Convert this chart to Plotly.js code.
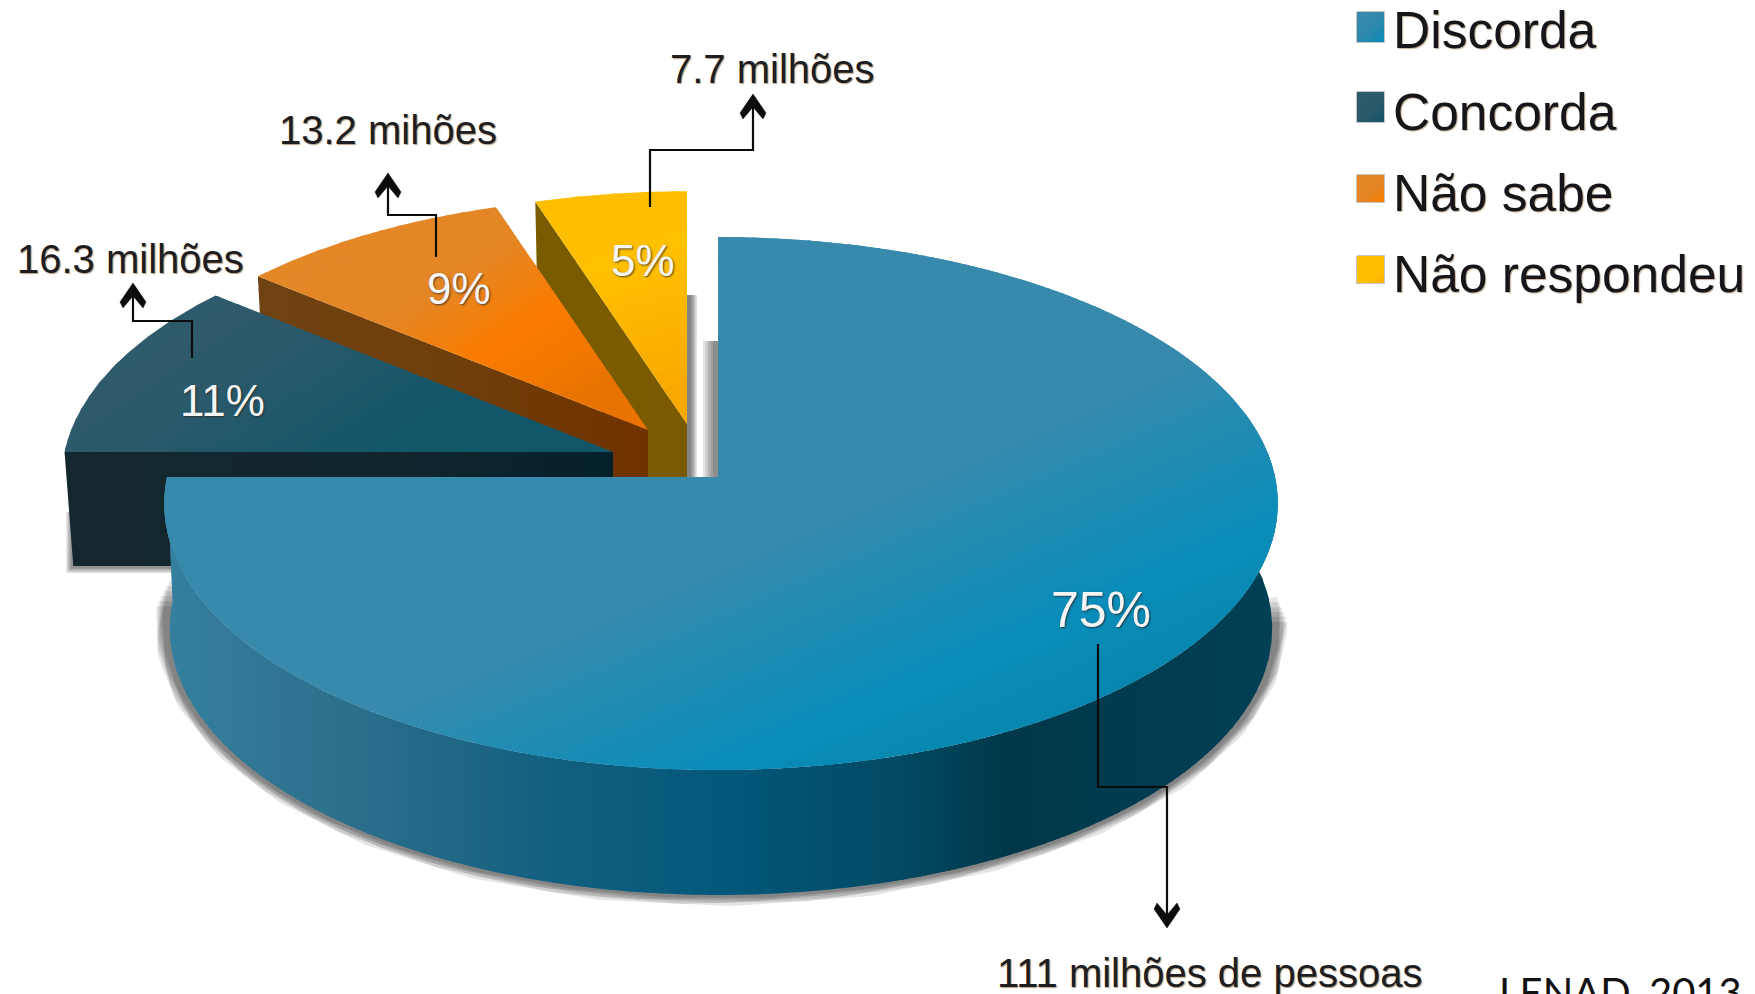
<!DOCTYPE html>
<html>
<head>
<meta charset="utf-8">
<script src="https://cdn.plot.ly/plotly-3.0.1.min.js"></script>
<style>html,body{margin:0;padding:0;background:#fff;overflow:hidden}</style>
</head>
<body>
<div id="chart" style="width:1755px;height:994px"></div>
<script>
// ---- data ----
const categories = ['Discorda', 'Concorda', 'Não sabe', 'Não respondeu'];
const percents = [75, 11, 9, 5];
const peopleLabels = ['111 milhões de pessoas', '16.3 milhões', '13.2 mihões', '7.7 milhões'];
const sourceNote = 'LENAD, 2013';

// ---- style ----
const apexes = [[718, 477], [613, 452], [648, 430], [687, 424]];
const scales = [1, 0.99, 0.972, 0.97];
const rimBias = [3, 0, 0, 0];
const DEPTH = [125, 114, 114, 114];
const RX = 554, RY = 263.8, K = 0.0995;
const SHRINK = [0.99, 0.984, 0.984, 0.984];
const topStops = [
  {dir: [0.4, 0.92], stops: [[800, '#388aac'], [900, '#1f8cb3'], [990, '#0a8dba'], [1100, '#0686ad']]},
  {dir: [0.55, 0.83], stops: [[330, '#2f5b6c'], [430, '#2d5a6b'], [560, '#155669'], [640, '#12566a']]},
  {dir: [0.55, 0.83], stops: [[390, '#e38727'], [480, '#e48625'], [560, '#fb7c00'], [650, '#e97300']]},
  {dir: [0.3, 0.95], stops: [[290, '#febc00'], [440, '#ffc000'], [575, '#f8a900']]}
];
const wallStops = [
  {dir: [1, 0], stops: [[165, '#34809f'], [340, '#2d708c'], [560, '#115f7f'], [730, '#03587a'], [900, '#024a63'], [1010, '#00384a'], [1270, '#014055']]},
  {dir: [1, 0], stops: [[60, '#14272f'], [400, '#12262e'], [613, '#04212b']]},
  {dir: [1, 0], stops: [[256, '#6f4212'], [450, '#6f3f0b'], [648, '#703200']]},
  {dir: [1, 0], stops: [[530, '#7a5c00'], [690, '#7a5a00']]}
];
const swatchStops = [
  [[0, '#3a8bad'], [0.55, '#3088ac'], [1, '#0a8cb8']],
  [[0, '#2f5b6c'], [0.55, '#2c5a6b'], [1, '#14566b']],
  [[0, '#e38727'], [0.6, '#e48625'], [1, '#fa7c00']],
  [[0, '#febd00'], [0.7, '#ffc000'], [1, '#fbb000']]
];
const swatchBoxes = [[1357, 12, 1384, 42], [1357, 92, 1384, 122], [1357, 175, 1384, 202], [1357, 256, 1384, 283]];
const legendTextY = [30, 112, 193, 274];

// ---- geometry from the values ----
function rim(i, theta, drop) {
  const [cx, cy] = apexes[i], s = scales[i] * (drop ? SHRINK[i] : 1);
  const u = Math.cos(theta), v = Math.sin(theta), w = 1 - K * v;
  return [cx + s * RX * u / w + rimBias[i] * Math.abs(u), cy + (drop || 0) + scales[i] * RY * v / w];
}
const total = percents.reduce((a, b) => a + b, 0);
const angles = [];
let running = -Math.PI / 2;
percents.forEach(p => {
  const a = running + p / total * 2 * Math.PI;
  angles.push([running, a]);
  running = a;
});
function arc(i, t0, t1, drop) {
  const n = Math.max(4, Math.round(Math.abs(t1 - t0) / 0.01));
  const out = [];
  for (let j = 0; j <= n; j++) out.push(rim(i, t0 + (t1 - t0) * j / n, drop));
  return out;
}
function hex(c) { return [1, 3, 5].map(o => parseInt(c.substr(o, 2), 16)); }
function colorAt(stops, p) {
  if (p <= stops[0][0]) return stops[0][1];
  for (let j = 1; j < stops.length; j++) {
    if (p <= stops[j][0]) {
      const f = (p - stops[j - 1][0]) / (stops[j][0] - stops[j - 1][0]);
      const a = hex(stops[j - 1][1]), b = hex(stops[j][1]);
      return 'rgb(' + a.map((v, k) => Math.round(v + (b[k] - v) * f)).join(',') + ')';
    }
  }
  return stops[stops.length - 1][1];
}
function clipHalf(poly, d, limit, keepAbove) {
  const f = q => (q[0] * d[0] + q[1] * d[1] - limit) * (keepAbove ? 1 : -1);
  const out = [];
  for (let j = 0; j < poly.length; j++) {
    const a = poly[j], b = poly[(j + 1) % poly.length];
    const fa = f(a), fb = f(b);
    if (fa >= 0) out.push(a);
    if ((fa >= 0) !== (fb >= 0)) {
      const t = fa / (fa - fb);
      out.push([a[0] + (b[0] - a[0]) * t, a[1] + (b[1] - a[1]) * t]);
    }
  }
  return out;
}
function bands(poly, spec, step) {
  const d = spec.dir;
  const ps = poly.map(q => q[0] * d[0] + q[1] * d[1]);
  const lo = Math.min(...ps), hi = Math.max(...ps);
  const traces = [];
  for (let p = lo; p < hi; p += step) {
    let piece = clipHalf(poly, d, p - 0.6, true);
    piece = clipHalf(piece, d, p + step + 0.6, false);
    if (piece.length < 3) continue;
    traces.push({
      type: 'scatter', mode: 'lines', fill: 'toself', hoverinfo: 'skip', showlegend: false,
      x: piece.map(q => q[0]).concat(piece[0][0]), y: piece.map(q => q[1]).concat(piece[0][1]),
      line: {width: 0}, fillcolor: colorAt(spec.stops, p + step / 2)
    });
  }
  return traces;
}
function softLine(pts, widths, alpha) {
  return widths.map(w => ({
    type: 'scatter', mode: 'lines', hoverinfo: 'skip', showlegend: false,
    x: pts.map(q => q[0]), y: pts.map(q => q[1]),
    line: {width: w, color: 'rgba(0,0,0,' + alpha + ')'}
  }));
}
const traces = [];
function radialWall(i, theta) {
  const d = DEPTH[i];
  const apex = apexes[i], r = rim(i, theta), r2 = rim(i, theta, d);
  return [apex, r, r2, [apex[0], apex[1] + d]];
}
function topFace(i) {
  const [t0, t1] = angles[i];
  return [apexes[i]].concat(arc(i, t0, t1));
}
// yellow
traces.push(...softLine([[apexes[3][0] + 2, 295], [apexes[3][0] + 2, 477]], [16, 13, 10, 7, 4], 0.12));
traces.push(...bands(radialWall(3, angles[3][0]), wallStops[3], 8));
traces.push(...bands(topFace(3), topStops[3], 8));
// orange
traces.push(...bands(radialWall(2, angles[2][0]), wallStops[2], 8));
traces.push(...bands(topFace(2), topStops[2], 6));
// dark teal
const darkCorner = rim(1, Math.PI, DEPTH[1]);
traces.push(...softLine([[rim(1, Math.PI, 60)[0] - 1, rim(1, Math.PI, 60)[1]], [darkCorner[0] - 1, darkCorner[1] + 1], [300, darkCorner[1] + 1]], [12, 9, 6, 3], 0.13));
traces.push(...bands(radialWall(1, Math.PI), wallStops[1], 12));
traces.push(...bands(topFace(1), topStops[1], 6));
// main slice: shadows (tapering at both ends), front wall, top
traces.push(...softLine([[apexes[0][0], rim(0, -Math.PI / 2, 104)[1]], [apexes[0][0], apexes[0][1]]], [30, 25, 20, 15, 10], 0.11));
const frontTop = arc(0, Math.PI, -0.25);
const frontBottom = arc(0, -0.25, Math.PI, DEPTH[0]);
[30, 27, 24, 21, 18, 15].forEach((w, n) => {
  const inset = (5 - n) * 0.018;
  traces.push(...softLine(arc(0, Math.PI + 0.06 - inset, inset, DEPTH[0] - 4), [w], 0.1));
});
traces.push(...bands(frontTop.concat(frontBottom), wallStops[0], 6));
const mainTop = topFace(0);
traces.push({type: 'scatter', mode: 'lines', fill: 'toself', hoverinfo: 'skip', showlegend: false,
  x: mainTop.map(q => q[0]).concat(mainTop[0][0]), y: mainTop.map(q => q[1]).concat(mainTop[0][1]),
  line: {width: 0}, fillcolor: '#388aac'});
[[angles[0][0], Math.PI / 2 + 0.01], [Math.PI / 2 - 0.01, angles[0][1]]].forEach(([a, b]) => {
  traces.push(...bands([apexes[0]].concat(arc(0, a, b)), topStops[0], 5));
});

// legend: swatches
categories.forEach((c, i) => {
  const [x0, y0, x1, y1] = swatchBoxes[i];
  traces.push(...softLine([[x0, y0], [x1, y0], [x1, y1], [x0, y1], [x0, y0]], [2], 0.22));
  const box = [[x0, y0], [x1, y0], [x1, y1], [x0, y1]];
  const d = [0.707, 0.707];
  const lo = (x0 + y0) * 0.707, hi = (x1 + y1) * 0.707;
  const stops = swatchStops[i].map(s => [lo + s[0] * (hi - lo), s[1]]);
  traces.push(...bands(box, {dir: d, stops}, 2));
});

// ---- text ----
const pctPos = [[1101, 610, 50], [222, 400, 44], [459, 288, 44], [643, 260, 44]];
const labelPos = [[1209, 973], [130, 259], [388, 130], [772, 69]];
const annotations = [];
percents.forEach((p, i) => annotations.push({
  x: pctPos[i][0], y: pctPos[i][1], xref: 'x', yref: 'y', showarrow: false, text: p + '%',
  font: {family: 'Liberation Sans', size: pctPos[i][2], color: '#f6f6f6', shadow: '1px 1px 2px rgba(40,40,40,.8)'}
}));
peopleLabels.forEach((t, i) => annotations.push({
  x: labelPos[i][0], y: labelPos[i][1], xref: 'x', yref: 'y', showarrow: false, text: t,
  font: {family: 'Liberation Sans', size: 40, color: '#1d1d22', shadow: '1px 1px 1px rgba(150,120,80,.7)'}
}));
categories.forEach((c, i) => annotations.push({
  x: 1391, y: legendTextY[i], xref: 'x', yref: 'y', xanchor: 'left', showarrow: false, text: c,
  font: {family: 'Liberation Sans', size: 51.5, color: '#15151a', shadow: '1px 1px 1px rgba(150,120,80,.6)'}
}));
annotations.push({
  x: 1497, y: 0, xref: 'x', yref: 'paper', xanchor: 'left', yanchor: 'middle', yshift: 2, showarrow: false,
  text: sourceNote, font: {family: 'Lato', size: 40, color: '#111'}
});

// ---- leader lines ----
const leaders = [
  [[1098, 644], [1098, 787], [1167, 787], [1167, 926]],
  [[192, 358], [192, 321], [133, 321], [133, 285]],
  [[436, 257], [436, 215], [388, 215], [388, 175]],
  [[650, 207], [650, 150], [753, 150], [753, 96]]
];
const shapes = [];
leaders.forEach(pts => {
  shapes.push({type: 'path', xref: 'x', yref: 'y', layer: 'above',
    path: 'M' + pts.map(q => q.join(',')).join('L'), line: {color: '#0c0c0c', width: 2.2}});
  const tip = pts[pts.length - 1], prev = pts[pts.length - 2];
  const sgn = tip[1] > prev[1] ? 1 : -1;
  const hx = tip[0], hy = tip[1] + sgn * 2;
  shapes.push({type: 'path', xref: 'x', yref: 'y', layer: 'above',
    path: `M${hx},${hy}L${hx + 13},${hy - sgn * 19}L${hx + 10},${hy - sgn * 25}L${hx},${hy - sgn * 13}L${hx - 10},${hy - sgn * 25}L${hx - 13},${hy - sgn * 19}Z`,
    fillcolor: '#0c0c0c', line: {color: '#0c0c0c', width: 0.5}});
});

Plotly.newPlot('chart', traces, {
  width: 1755, height: 994, autosize: false,
  margin: {l: 0, r: 0, t: 0, b: 0, pad: 0},
  paper_bgcolor: '#fff', plot_bgcolor: '#fff',
  xaxis: {range: [0, 1755], visible: false, fixedrange: true},
  yaxis: {range: [994, 0], visible: false, fixedrange: true},
  showlegend: false,
  annotations, shapes
}, {displayModeBar: false, staticPlot: true});
</script>
</body>
</html>
